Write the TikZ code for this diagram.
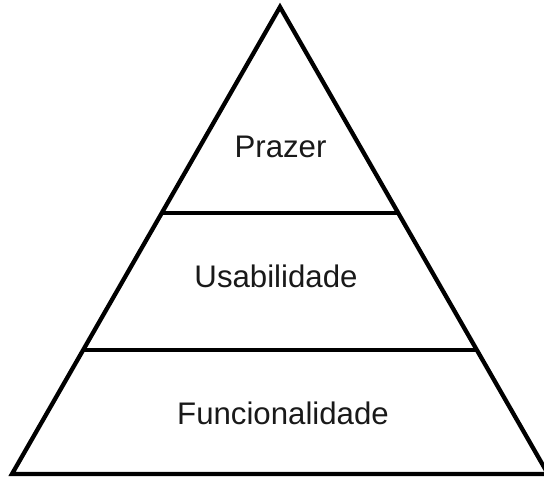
\documentclass[tikz,border=0pt]{standalone}
\usepackage{fontspec}
\setmainfont{Liberation Sans}
\usetikzlibrary{calc}
\begin{document}
\begin{tikzpicture}[x=1pt,y=-1pt,
  edge/.style={line width=4.3pt,black},
  lbl/.style={anchor=base,inner sep=0pt,font=\fontsize{31.2}{37}\selectfont,text=black!90}]
\useasboundingbox (0,0) rectangle (544,478);
\begin{scope}
\clip (0,0) rectangle (544,478);
\coordinate (A) at (280,7);
\coordinate (L) at (12,474);
\coordinate (R) at (548,474);
\coordinate (L1) at ($(L)!0.5589!(A)$);
\coordinate (R1) at ($(R)!0.5589!(A)$);
\coordinate (L2) at ($(L)!0.2655!(A)$);
\coordinate (R2) at ($(R)!0.2655!(A)$);
\draw[edge,line join=miter] (A) -- (L) -- (R) -- cycle;
\draw[edge] (L1) -- (R1);
\draw[edge] (L2) -- (R2);
\end{scope}
\node[lbl] (p) at (280.5,158) {Prazer};
\node[lbl] (u) at (276,288) {Usabilidade};
\node[lbl] (f) at (283,425) {Funcionalidade};
\end{tikzpicture}
\end{document}
